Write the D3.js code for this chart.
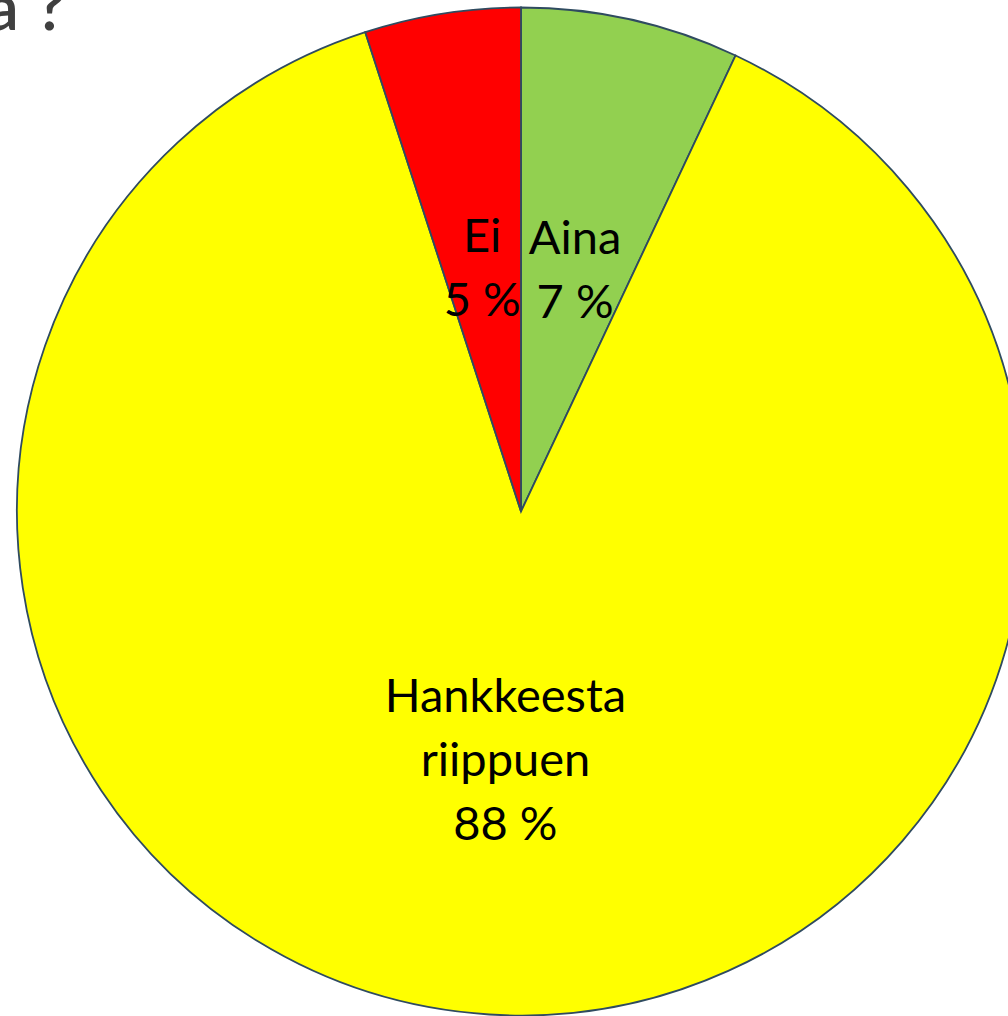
<!DOCTYPE html>
<html>
<head>
<meta charset="utf-8">
<script src="https://cdn.jsdelivr.net/npm/d3@7"></script>
<style>
  html, body { margin: 0; padding: 0; background: #fff; overflow: hidden; }
</style>
</head>
<body>
<div id="chart"></div>
<script>
// Data
const categories = ['Aina', 'Hankkeesta riippuen', 'Ei'];
const values = [7, 88, 5];
const labelLines = [['Aina', '7 %'], ['Hankkeesta', 'riippuen', '88 %'], ['Ei', '5 %']];
const sliceColors = ['#92D050', '#FFFF00', '#FF0000'];
const titleFragment = ['a', '?'];

const W = 1008, H = 1016;
const cx = 521, cy = 511.5, radius = 504;

const svg = d3.select('#chart').append('svg')
    .attr('width', W)
    .attr('height', H);

// Title (only its tail is visible in the crop)
const title = svg.append('text')
    .attr('x', 19)
    .attr('y', 30)
    .attr('text-anchor', 'end')
    .attr('font-family', 'Lato, "Open Sans", sans-serif')
    .attr('font-size', '66px')
    .attr('font-weight', '600')
    .attr('fill', '#404040');
title.append('tspan').text(titleFragment[0]);
title.append('tspan')
    .attr('x', 36)
    .attr('text-anchor', 'start')
    .text(titleFragment[1]);

const g = svg.append('g').attr('transform', `translate(${cx},${cy})`);

const pie = d3.pie().sort(null).value(d => d.value);
const arcs = pie(categories.map((c, i) => ({ name: c, value: values[i], idx: i })));

const arc = d3.arc().innerRadius(0).outerRadius(radius);
const labelArc = d3.arc().innerRadius(248).outerRadius(248);

g.selectAll('path.slice')
    .data(arcs)
    .join('path')
    .attr('class', 'slice')
    .attr('d', arc)
    .attr('fill', d => sliceColors[d.data.idx])
    .attr('stroke', '#2F4B60')
    .attr('stroke-width', 1.8)
    .attr('stroke-linejoin', 'miter');

const lineH = 64;
const capHalf = 17;

arcs.forEach(d => {
    const [lx, ly] = labelArc.centroid(d);
    const lines = labelLines[d.data.idx];
    const t = g.append('text')
        .attr('text-anchor', 'middle')
        .attr('font-family', 'Lato, "Open Sans", sans-serif')
        .attr('font-size', '47px')
        .attr('fill', '#000');
    const firstY = ly - (lines.length - 1) * lineH / 2 + capHalf;
    lines.forEach((s, i) => {
        t.append('tspan')
            .attr('x', lx)
            .attr('y', firstY + i * lineH)
            .text(s);
    });
});
</script>
</body>
</html>
